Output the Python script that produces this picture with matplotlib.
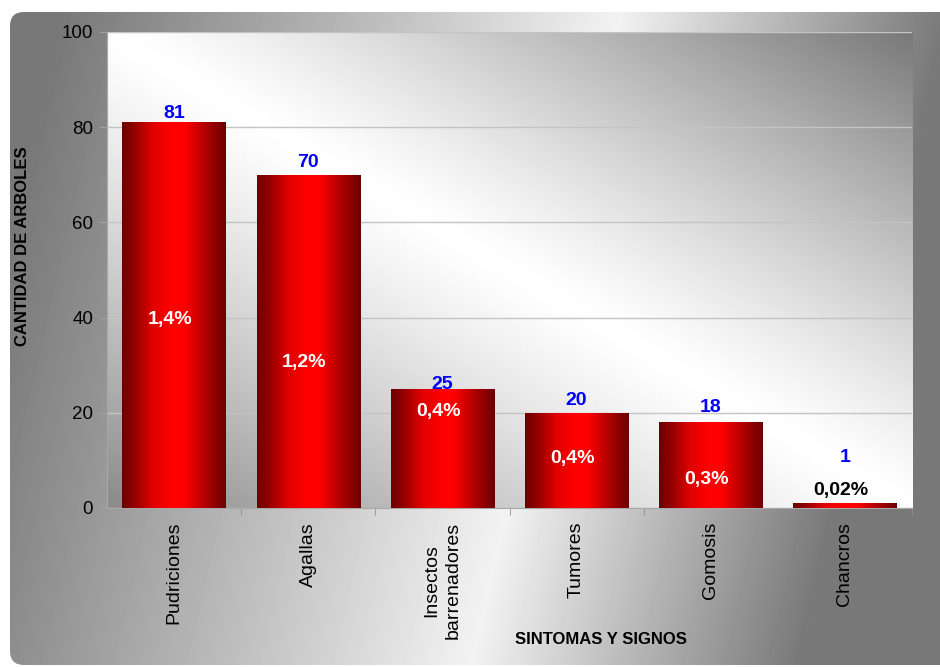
import numpy as np
import matplotlib
matplotlib.use("Agg")
import matplotlib.pyplot as plt
from matplotlib.colors import LinearSegmentedColormap
from matplotlib.patches import FancyBboxPatch

plt.rcParams["font.family"] = ["Liberation Sans", "DejaVu Sans"]

# datos
categorias = ["Pudriciones", "Agallas", "Insectos\nbarrenadores", "Tumores", "Gomosis", "Chancros"]
arboles = [81, 70, 25, 20, 18, 1]
porcentajes = ["1,4%", "1,2%", "0,4%", "0,4%", "0,3%", "0,02%"]

W, H = 940, 667
fig = plt.figure(figsize=(W / 100, H / 100), dpi=100)
fig.patch.set_facecolor("white")

# fondo gris con brillo diagonal y esquinas redondeadas
bg = fig.add_axes([0, 0, 1, 1], zorder=-10)
yy, xx = np.mgrid[0:H, 0:W]
centro = 620 - (yy - 12) / 653 * 150
d = xx - centro
L = np.where(d < 0, 560, 330)
luz = 0.95 - 0.48 * np.clip(np.abs(d) / L, 0, 1)
fondo = bg.imshow(luz, cmap="gray", vmin=0, vmax=1, extent=(0, W, H, 0),
                  interpolation="bilinear", aspect="auto")
marco = FancyBboxPatch((10, 12), W + 30, 653, boxstyle="round,pad=0,rounding_size=14",
                       facecolor="none", edgecolor="none")
bg.add_patch(marco)
fondo.set_clip_path(marco)
bg.set_xlim(0, W)
bg.set_ylim(H, 0)
bg.axis("off")

# area del grafico
ax = fig.add_axes([107 / W, 1 - 508 / H, (912 - 107) / W, (508 - 32) / H])
x = np.arange(len(categorias))
xmin, xmax = -0.5, len(categorias) - 0.5

ph, pw = 476, 805
vy, vx = np.mgrid[0:ph, 0:pw]
u = vx / (pw - 1) - vy / (ph - 1)
brillo = np.where(u > 0, 1 - 0.53 * np.abs(u) ** 1.2, 1 - 0.46 * np.abs(u) ** 1.2)
ax.imshow(brillo, cmap="gray", vmin=0, vmax=1, extent=(xmin, xmax, 0, 100),
          aspect="auto", interpolation="bilinear", zorder=0)

# barras con degradado rojo
rojo = LinearSegmentedColormap.from_list("rojo", [
    (0.0, (0.42, 0, 0)), (0.12, (0.58, 0, 0)), (0.3, (0.88, 0, 0)),
    (0.48, (1, 0, 0)), (0.6, (1, 0, 0)), (0.8, (0.70, 0, 0)), (1.0, (0.42, 0, 0))])
grad = np.linspace(0, 1, 256).reshape(1, -1)
barras = ax.bar(x, arboles, width=0.77, color="none", edgecolor="none", zorder=3)
for b in barras:
    im = ax.imshow(grad, cmap=rojo, extent=(b.get_x(), b.get_x() + b.get_width(), 0, b.get_height()),
                   aspect="auto", interpolation="bilinear", zorder=3)
    im.set_clip_path(b)

ax.set_xlim(xmin, xmax)
ax.set_ylim(0, 100)
ax.set_yticks(range(0, 101, 20))
ax.yaxis.grid(True, color="#c4c4c4", lw=1)
ax.set_axisbelow(True)
ax.set_xticks(x)
ax.set_xticklabels(categorias, rotation=90, fontsize=14, va="top", ha="center",
                   multialignment="center", linespacing=1.3)
ax.set_xticks(np.arange(xmin, xmax + 0.1, 1), minor=True)
ax.tick_params(axis="x", which="major", length=0, pad=10)
ax.tick_params(axis="x", which="minor", length=5, color="#909090")
ax.tick_params(axis="y", length=6, color="#a0a0a0", labelsize=13.5, pad=4)
for s in ["top", "right"]:
    ax.spines[s].set_visible(False)
for s in ["left", "bottom"]:
    ax.spines[s].set_color("#a8a8a8")

# etiquetas de valores
y_valor = [82.8, 72.5, 26.0, 22.5, 21.2, 10.7]
y_pct = [39.5, 30.5, 20.2, 10.3, 5.9, 3.6]
col_pct = ["white"] * 5 + ["black"]
for i, v in enumerate(arboles):
    ax.text(x[i], y_valor[i], str(v), color="#0000ff", fontsize=14, fontweight="bold",
            ha="center", va="center", zorder=5)
    ax.text(x[i] - 0.03, y_pct[i], porcentajes[i], color=col_pct[i], fontsize=14,
            fontweight="bold", ha="center", va="center", zorder=5)

fig.text(23 / W, 1 - 246 / H, "CANTIDAD DE ARBOLES", rotation=90, ha="center", va="center",
         fontsize=12, fontweight="bold")
fig.text(601 / W, 1 - 640 / H, "SINTOMAS Y SIGNOS", ha="center", va="center",
         fontsize=12, fontweight="bold")

fig.savefig("out.png", dpi=100)
